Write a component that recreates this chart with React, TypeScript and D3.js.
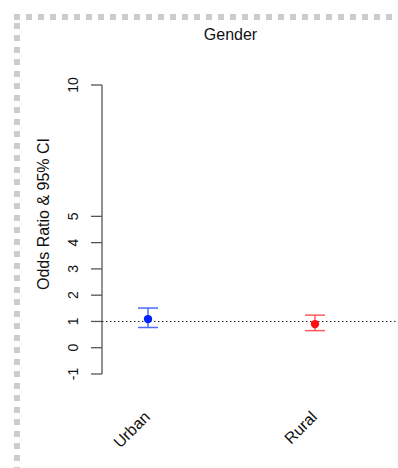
import React from "react";
import * as d3 from "d3";

const categories = ["Urban", "Rural"];
const oddsRatio = [1.09, 0.9];
const lower = [0.77, 0.65];
const upper = [1.51, 1.24];
const yTicks = [-1, 0, 1, 2, 3, 4, 5, 10];
const pointColors = ["#0022ff", "#ff1111"];
const barColors = ["#4a6cff", "#ff5a5a"];

const W = 398;
const H = 468;

export default function App() {
  const y = d3.scaleLinear().domain([-1, 10]).range([374, 85]);
  const x = d3.scalePoint<string>().domain(categories).range([148, 315]);
  const font = "'Liberation Sans', Arial, Helvetica, sans-serif";

  const topSquares = d3.range(14, W, 12);
  const leftSquares = [14, ...d3.range(23, H, 12)];

  return (
    <svg
      width={W}
      height={H}
      style={{ position: "absolute", left: 0, top: 0, background: "#fff" }}
      fontFamily={font}
    >
      {topSquares.map((sx) => (
        <rect key={"t" + sx} x={sx} y={14} width={6} height={6} fill="#cccccc" />
      ))}
      {leftSquares.map((sy) => (
        <rect key={"l" + sy} x={14} y={sy} width={6} height={6} fill="#cccccc" />
      ))}

      <text x={230.5} y={40} textAnchor="middle" fontSize={16} fill="#111">
        Gender
      </text>

      {/* y axis */}
      <line x1={102} x2={102} y1={y(-1)} y2={y(10)} stroke="#555" strokeWidth={1.3} />
      {yTicks.map((t) => (
        <g key={t}>
          <line x1={91} x2={102} y1={y(t)} y2={y(t)} stroke="#555" strokeWidth={1.3} />
          <text
            transform={`translate(77.5,${y(t)}) rotate(-90)`}
            textAnchor="middle"
            fontSize={14}
            fill="#111"
          >
            {t}
          </text>
        </g>
      ))}
      <text
        transform={`translate(49,214) rotate(-90)`}
        textAnchor="middle"
        fontSize={16}
        fill="#111"
      >
        Odds Ratio &amp; 95% CI
      </text>

      {/* reference line */}
      <line
        x1={102}
        x2={W}
        y1={y(1)}
        y2={y(1)}
        stroke="#222"
        strokeWidth={1}
        strokeDasharray="1.5,2.5"
      />

      {categories.map((c, i) => {
        const cx = x(c) as number;
        return (
          <g key={c}>
            <line x1={cx} x2={cx} y1={y(lower[i])} y2={y(upper[i])} stroke={barColors[i]} strokeWidth={1.5} />
            <line x1={cx - 10} x2={cx + 10} y1={y(lower[i])} y2={y(lower[i])} stroke={barColors[i]} strokeWidth={1.5} />
            <line x1={cx - 10} x2={cx + 10} y1={y(upper[i])} y2={y(upper[i])} stroke={barColors[i]} strokeWidth={1.5} />
            <circle cx={cx} cy={y(oddsRatio[i])} r={4.2} fill={pointColors[i]} />
            <text
              transform={`translate(${cx + 3},418) rotate(-45)`}
              textAnchor="end"
              fontSize={16}
              fill="#111"
            >
              {c}
            </text>
          </g>
        );
      })}
    </svg>
  );
}
